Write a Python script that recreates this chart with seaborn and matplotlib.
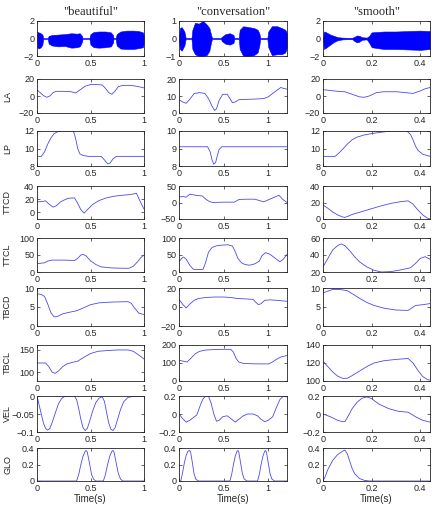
import matplotlib
matplotlib.use("Agg")
import matplotlib.pyplot as plt
import matplotlib.ticker as mticker
import seaborn as sns

# ---------------- waveforms (envelopes) ----------------
beautiful_wav_t = [0, 0.004, 0.015, 0.035, 0.05, 0.058, 0.10, 0.11, 0.14, 0.2, 0.26, 0.32, 0.37, 0.40, 0.42, 0.425,
                   0.49, 0.50, 0.53, 0.58, 0.64, 0.69, 0.71, 0.715, 0.735, 0.745, 0.78, 0.84, 0.9, 0.95, 0.99, 1.0]
beautiful_wav_top = [0.05, 0.75, 0.7, 0.6, 0.45, 0.05, 0.05, 0.3, 0.4, 0.45, 0.5, 0.6, 0.55, 0.6, 0.3, 0.05,
                     0.05, 0.5, 0.75, 0.8, 0.8, 0.7, 0.4, 0.05, 0.05, 0.5, 0.8, 0.9, 0.9, 0.85, 0.7, 0.3]
beautiful_wav_bot = [-0.05, -1.0, -1.15, -1.0, -0.7, -0.05, -0.05, -0.6, -0.8, -0.9, -0.85, -1.05, -1.0, -0.9, -0.4, -0.05,
                     -0.05, -0.7, -1.0, -1.05, -1.0, -0.9, -0.5, -0.05, -0.05, -0.8, -1.15, -1.2, -1.2, -1.1, -1.0, -0.4]

conv_wav_t = [0, 0.01, 0.03, 0.06, 0.075, 0.14, 0.15, 0.18, 0.22, 0.27, 0.31, 0.34, 0.36, 0.37, 0.47, 0.48, 0.52,
              0.57, 0.61, 0.62, 0.67, 0.68, 0.72, 0.78, 0.84, 0.88, 0.9, 0.91, 0.99, 1.0, 1.04, 1.1, 1.15, 1.19, 1.21]
conv_wav_top = [0.03, 0.6, 0.65, 0.4, 0.03, 0.03, 0.5, 0.9, 0.85, 1.0, 0.8, 0.6, 0.2, 0.03, 0.03, 0.1, 0.25,
                0.3, 0.2, 0.03, 0.03, 0.5, 0.7, 0.65, 0.6, 0.5, 0.3, 0.03, 0.03, 0.4, 0.7, 0.7, 0.6, 0.5, 0.3]
conv_wav_bot = [-0.03, -0.6, -0.7, -0.4, -0.03, -0.03, -0.6, -0.9, -1.0, -1.0, -0.95, -0.7, -0.2, -0.03, -0.03, -0.15, -0.3,
                -0.35, -0.25, -0.03, -0.03, -0.6, -1.0, -1.0, -0.95, -0.8, -0.4, -0.03, -0.03, -0.5, -0.95, -0.9, -0.9, -0.8, -0.5]

smooth_wav_t = [0, 0.004, 0.01, 0.02, 0.03, 0.045, 0.06, 0.08, 0.1, 0.12, 0.13, 0.14, 0.15, 0.16, 0.18, 0.19, 0.2,
                0.25, 0.3, 0.35, 0.4, 0.44]
smooth_wav_top = [0.05, 0.8, 0.75, 0.6, 0.45, 0.3, 0.15, 0.1, 0.08, 0.08, 0.2, 0.35, 0.3, 0.15, 0.1, 0.3, 0.7,
                  0.8, 0.8, 0.85, 0.9, 0.85]
smooth_wav_bot = [-0.05, -1.2, -1.1, -0.9, -0.7, -0.4, -0.2, -0.1, -0.08, -0.08, -0.3, -0.45, -0.35, -0.15, -0.1, -0.5, -1.0,
                  -1.2, -1.2, -1.25, -1.3, -1.2]

# ---------------- "beautiful" ----------------
b_la_t = [0, 0.03, 0.06, 0.09, 0.12, 0.15, 0.18, 0.25, 0.32, 0.36, 0.40, 0.45, 0.50, 0.55, 0.61, 0.64, 0.67, 0.70,
          0.73, 0.76, 0.80, 0.88, 0.95, 1.0]
b_la = [7, 4, 0.5, -1.5, 0, 4, 5.5, 5.5, 5, 3.5, 7, 11.5, 13.5, 13.5, 13, 9, 4, 2, 6, 11, 12.5, 12.5, 11, 9.5]
b_lp_t = [0, 0.04, 0.07, 0.10, 0.13, 0.16, 0.19, 0.22, 0.25, 0.34, 0.36, 0.38, 0.40, 0.43, 0.48, 0.60, 0.63, 0.66,
          0.68, 0.71, 0.74, 1.0]
b_lp = [9.1, 9.1, 9.6, 10.5, 11.2, 11.7, 11.9, 12, 12, 12, 11.2, 10, 9.4, 9.2, 9.1, 9.1, 8.7, 8.25, 8.3, 8.8, 9.1, 9.1]
b_ttcd_t = [0, 0.05, 0.08, 0.11, 0.15, 0.18, 0.22, 0.27, 0.30, 0.35, 0.38, 0.41, 0.44, 0.47, 0.52, 0.58, 0.65, 0.72,
            0.80, 0.87, 0.93, 0.96, 1.0]
b_ttcd = [16, 16.5, 17.5, 13, 8, 10, 16, 20, 21.5, 22, 14, 4, -1, 4, 12, 18, 22, 24.5, 26, 27, 29, 18, 5]
b_ttcl_t = [0, 0.04, 0.07, 0.10, 0.14, 0.25, 0.35, 0.38, 0.41, 0.43, 0.46, 0.50, 0.55, 0.60, 0.70, 0.80, 0.86, 0.90,
            0.94, 0.97, 1.0]
b_ttcl = [24, 26, 27, 32, 35, 35, 34, 40, 50, 52, 47, 33, 22, 15, 12, 11, 11, 17, 30, 42, 50]
b_tbcd_t = [0, 0.04, 0.07, 0.10, 0.13, 0.16, 0.19, 0.24, 0.30, 0.37, 0.42, 0.50, 0.58, 0.70, 0.85, 0.88, 0.91, 0.95, 1.0]
b_tbcd = [8.5, 8.3, 7.8, 5.8, 3.5, 2.4, 2.5, 3.2, 3.6, 4.0, 4.6, 5.6, 6.1, 6.3, 6.4, 6.0, 4.8, 3.4, 3.0]
b_tbcl_t = [0, 0.08, 0.11, 0.14, 0.17, 0.20, 0.24, 0.28, 0.34, 0.38, 0.44, 0.50, 0.57, 0.65, 0.75, 0.85, 0.90, 0.95, 1.0]
b_tbcl = [120, 120, 112, 100, 97, 102, 112, 118, 122, 124, 133, 141, 146, 147.5, 149, 149, 146, 138, 129]
b_vel_t = [0, 0.02, 0.04, 0.06, 0.08, 0.10, 0.12, 0.14, 0.17, 0.20, 0.23, 0.26, 0.35, 0.37, 0.39, 0.41, 0.43, 0.45,
           0.47, 0.49, 0.52, 0.55, 0.58, 0.61, 0.63, 0.65, 0.67, 0.69, 0.71, 0.73, 0.75, 0.78, 0.81, 0.85, 0.90, 1.0]
b_vel = [0, -0.025, -0.05, -0.075, -0.09, -0.095, -0.09, -0.075, -0.048, -0.022, -0.007, -0.001, 0, -0.01, -0.035,
         -0.065, -0.088, -0.096, -0.09, -0.072, -0.042, -0.018, -0.006, -0.002, -0.015, -0.045, -0.075, -0.092,
         -0.096, -0.088, -0.068, -0.038, -0.016, -0.004, -0.001, 0]
b_glo_t = [0, 0.37, 0.39, 0.41, 0.43, 0.45, 0.46, 0.47, 0.49, 0.51, 0.53, 0.55, 0.62, 0.64, 0.66, 0.68, 0.70, 0.71,
           0.72, 0.74, 0.76, 0.78, 0.80, 1.0]
b_glo = [0, 0, 0.08, 0.2, 0.3, 0.36, 0.37, 0.35, 0.22, 0.08, 0.02, 0, 0, 0.08, 0.2, 0.3, 0.36, 0.37, 0.35, 0.22,
         0.09, 0.025, 0, 0]

# ---------------- "conversation" ----------------
c_la_t = [0, 0.04, 0.08, 0.12, 0.17, 0.23, 0.29, 0.33, 0.37, 0.40, 0.42, 0.45, 0.49, 0.54, 0.57, 0.60, 0.63, 0.67,
          0.75, 0.85, 0.95, 1.0, 1.05, 1.10, 1.14, 1.17, 1.21]
c_la = [8, 6.5, 5.7, 8, 11.5, 12, 11.5, 8.5, 4, 1.5, 2.5, 7.5, 11, 11, 8.5, 6, 6.5, 7.8, 8, 8.2, 8.5, 9.5, 11.5,
        13.5, 15, 14.5, 14]
c_lp_t = [0, 0.32, 0.35, 0.37, 0.39, 0.41, 0.43, 0.45, 0.48, 1.21]
c_lp = [9.1, 9.1, 8.8, 8.35, 8.1, 8.2, 8.6, 8.95, 9.1, 9.1]
c_ttcd_t = [0, 0.05, 0.08, 0.12, 0.15, 0.20, 0.26, 0.30, 0.34, 0.38, 0.50, 0.62, 0.67, 0.75, 0.85, 0.90, 0.95, 1.00,
            1.06, 1.12, 1.16, 1.21]
c_ttcd = [17, 18, 16, 25, 24, 21, 20, 10, 3, 0, 1, 1, 9, 10, 10, 6, 2, 8, 15, 22, 10, 0]
c_ttcl_t = [0, 0.03, 0.05, 0.08, 0.12, 0.16, 0.22, 0.27, 0.30, 0.33, 0.37, 0.42, 0.48, 0.55, 0.60, 0.63, 0.66, 0.70,
            0.74, 0.79, 0.85, 0.90, 0.93, 0.97, 1.02, 1.08, 1.13, 1.17, 1.21]
c_ttcl = [30, 40, 44, 38, 20, 8, 7, 8, 30, 58, 72, 77, 79, 80, 76, 60, 40, 27, 22, 20, 24, 32, 48, 57, 52, 40, 30, 38, 52]
c_tbcd_t = [0, 0.04, 0.08, 0.12, 0.17, 0.22, 0.30, 0.40, 0.50, 0.58, 0.65, 0.75, 0.83, 0.86, 0.89, 0.92, 0.96, 1.02,
            1.10, 1.21]
c_tbcd = [8, 3, -1, 3, 7, 9, 10, 10.5, 10.5, 10, 9, 8.5, 8, 5, 2.5, 3.5, 7, 7.5, 7, 6]
c_tbcl_t = [0, 0.05, 0.09, 0.13, 0.18, 0.23, 0.30, 0.40, 0.50, 0.58, 0.61, 0.64, 0.67, 0.72, 0.80, 0.90, 1.00, 1.04,
            1.09, 1.14, 1.21]
c_tbcl = [115, 110, 105, 125, 150, 165, 172, 175, 176, 176, 160, 125, 105, 98, 96, 95, 95, 103, 120, 133, 142]
c_vel_t = [0, 0.04, 0.08, 0.12, 0.16, 0.20, 0.24, 0.27, 0.30, 0.33, 0.36, 0.39, 0.42, 0.45, 0.49, 0.54, 0.58, 0.63,
           0.67, 0.72, 0.77, 0.83, 0.88, 0.92, 0.96, 1.00, 1.05, 1.09, 1.13, 1.17, 1.21]
c_vel = [0, -0.05, -0.09, -0.07, -0.04, -0.01, 0.1, 0.17, 0.2, 0.2, 0.12, 0.0, -0.08, -0.07, -0.03, -0.02, -0.05,
         -0.09, -0.06, -0.02, 0, 0, -0.02, -0.06, -0.085, -0.07, -0.03, 0.07, 0.16, 0.2, 0.19]
c_glo_t = [0, 0.02, 0.04, 0.06, 0.08, 0.10, 0.12, 0.13, 0.15, 0.17, 0.19, 0.22, 0.57, 0.59, 0.61, 0.63, 0.65, 0.66,
           0.67, 0.69, 0.71, 0.73, 0.76, 0.88, 0.90, 0.92, 0.94, 0.96, 0.97, 0.98, 1.00, 1.02, 1.04, 1.07, 1.21]
c_glo = [0, 0, 0.1, 0.22, 0.31, 0.36, 0.37, 0.35, 0.22, 0.08, 0.02, 0, 0, 0.08, 0.2, 0.3, 0.36, 0.37, 0.35, 0.22,
         0.09, 0.025, 0, 0, 0.08, 0.2, 0.3, 0.36, 0.37, 0.35, 0.22, 0.09, 0.025, 0, 0]

# ---------------- "smooth" ----------------
s_la_t = [0, 0.03, 0.06, 0.09, 0.12, 0.15, 0.17, 0.19, 0.22, 0.25, 0.30, 0.34, 0.37, 0.40, 0.42, 0.44]
s_la = [7.5, 6.5, 5.5, 5, 2, -1, -1.5, 0, 4, 5, 5, 4, 3, 6, 8.5, 10]
s_lp_t = [0, 0.05, 0.07, 0.10, 0.12, 0.14, 0.17, 0.21, 0.25, 0.28, 0.345, 0.36, 0.37, 0.38, 0.39, 0.41, 0.44]
s_lp = [9.1, 9.1, 9.6, 10.5, 11.0, 11.3, 11.55, 11.75, 11.9, 12, 12, 11.6, 11.0, 10.3, 9.8, 9.35, 9.1]
s_ttcd_t = [0, 0.02, 0.04, 0.06, 0.08, 0.09, 0.10, 0.12, 0.16, 0.20, 0.24, 0.28, 0.32, 0.35, 0.37, 0.39, 0.41, 0.43, 0.44]
s_ttcd = [17, 13, 8.5, 5, 2.5, 2, 3, 5.5, 9, 12.5, 16, 19, 21, 22, 18, 11, 5, 1, 0]
s_ttcl_t = [0, 0.02, 0.04, 0.06, 0.075, 0.09, 0.11, 0.13, 0.15, 0.18, 0.21, 0.24, 0.28, 0.32, 0.36, 0.38, 0.40, 0.42, 0.44]
s_ttcl = [26, 36, 46, 51, 53, 51, 45, 38, 32, 26, 22, 20, 20.5, 22.5, 25, 30, 36, 38, 35]
s_tbcd_t = [0, 0.02, 0.04, 0.07, 0.10, 0.12, 0.15, 0.18, 0.21, 0.25, 0.30, 0.35, 0.36, 0.38, 0.41, 0.44]
s_tbcd = [8.7, 9.2, 9.6, 9.6, 9.3, 8.5, 7.3, 6.2, 5.4, 4.7, 4.2, 4.1, 4.5, 5.4, 5.6, 5.9]
s_tbcl_t = [0, 0.02, 0.04, 0.06, 0.08, 0.10, 0.12, 0.15, 0.18, 0.21, 0.25, 0.30, 0.35, 0.37, 0.39, 0.41, 0.43, 0.44]
s_tbcl = [122, 116, 110, 105.5, 103, 103, 106, 111, 116, 120, 122.5, 124, 125, 120, 112, 105, 101.5, 101]
s_vel_t = [0, 0.03, 0.06, 0.08, 0.09, 0.10, 0.12, 0.14, 0.16, 0.18, 0.20, 0.23, 0.27, 0.31, 0.35, 0.38, 0.41, 0.44]
s_vel = [0, -0.03, -0.07, -0.085, -0.085, -0.04, 0.06, 0.13, 0.175, 0.19, 0.17, 0.11, 0.06, 0.03, 0.02, -0.03, -0.07, -0.09]
s_glo_t = [0, 0.01, 0.02, 0.04, 0.06, 0.08, 0.09, 0.10, 0.11, 0.12, 0.13, 0.15, 0.17, 0.19, 0.44]
s_glo = [0, 0.06, 0.14, 0.25, 0.32, 0.36, 0.375, 0.33, 0.24, 0.15, 0.09, 0.03, 0.008, 0, 0]

words = ['"beautiful"', '"conversation"', '"smooth"']
row_labels = ["", "LA", "LP", "TTCD", "TTCL", "TBCD", "TBCL", "VEL", "GLO"]

sns.set_theme(style="ticks")
plt.rcParams.update({
    "font.family": ["Liberation Sans", "DejaVu Sans"],
    "font.size": 6.5,
    "axes.linewidth": 0.6,
    "axes.edgecolor": "#222222",
    "xtick.direction": "in",
    "ytick.direction": "in",
    "xtick.top": True,
    "ytick.right": True,
    "xtick.major.size": 2,
    "ytick.major.size": 2,
    "xtick.major.width": 0.5,
    "ytick.major.width": 0.5,
    "xtick.major.pad": 2,
    "ytick.major.pad": 2,
    "xtick.labelsize": 6.5,
    "ytick.labelsize": 6.5,
})

W, H = 436, 508
fig = plt.figure(figsize=(W / 100, H / 100), dpi=100)
col_px = [(37, 144), (179, 287), (323, 430)]
row_px = [(21, 56), (79, 113), (131, 166), (186, 219), (238, 272), (288, 326), (345, 381), (396, 432), (448, 481)]

xlims = [1.0, 1.21, 0.44]
xticks = [[0, 0.5, 1], [0, 0.5, 1], [0, 0.2, 0.4]]

waves = [(beautiful_wav_t, beautiful_wav_top, beautiful_wav_bot),
         (conv_wav_t, conv_wav_top, conv_wav_bot),
         (smooth_wav_t, smooth_wav_top, smooth_wav_bot)]
wave_ylim = [(-2, 2), (-1, 1), (-2, 2)]
wave_yticks = [[-2, 0, 2], [-1, 0, 1], [-2, 0, 2]]

curves = [
    [(b_la_t, b_la), (c_la_t, c_la), (s_la_t, s_la)],
    [(b_lp_t, b_lp), (c_lp_t, c_lp), (s_lp_t, s_lp)],
    [(b_ttcd_t, b_ttcd), (c_ttcd_t, c_ttcd), (s_ttcd_t, s_ttcd)],
    [(b_ttcl_t, b_ttcl), (c_ttcl_t, c_ttcl), (s_ttcl_t, s_ttcl)],
    [(b_tbcd_t, b_tbcd), (c_tbcd_t, c_tbcd), (s_tbcd_t, s_tbcd)],
    [(b_tbcl_t, b_tbcl), (c_tbcl_t, c_tbcl), (s_tbcl_t, s_tbcl)],
    [(b_vel_t, b_vel), (c_vel_t, c_vel), (s_vel_t, s_vel)],
    [(b_glo_t, b_glo), (c_glo_t, c_glo), (s_glo_t, s_glo)],
]
ylims = [
    [(-20, 20), (0, 20), (-20, 20)],
    [(8, 12), (8, 10), (8, 12)],
    [(-10, 40), (-50, 50), (0, 40)],
    [(0, 100), (0, 100), (20, 60)],
    [(0, 10), (-20, 20), (0, 10)],
    [(80, 160), (0, 200), (100, 140)],
    [(-0.1, 0), (-0.2, 0.2), (-0.2, 0.2)],
    [(0, 0.4), (0, 0.4), (0, 0.4)],
]
yticks = [
    [[-20, 0, 20], [0, 10, 20], [-20, 0, 20]],
    [[8, 10, 12], [8, 9, 10], [8, 10, 12]],
    [[0, 20, 40], [-50, 0, 50], [0, 20, 40]],
    [[0, 50, 100], [0, 50, 100], [20, 40, 60]],
    [[0, 5, 10], [-20, 0, 20], [0, 5, 10]],
    [[100, 150], [0, 100, 200], [100, 120, 140]],
    [[-0.1, -0.05, 0], [-0.2, 0, 0.2], [-0.2, 0, 0.2]],
    [[0, 0.2, 0.4], [0, 0.2, 0.4], [0, 0.2, 0.4]],
]

fmt = mticker.FuncFormatter(lambda v, p: f"{v:g}".replace("-", "\u2212"))


def make_ax(r, c):
    x0, x1 = col_px[c]
    y0, y1 = row_px[r]
    ax = fig.add_axes([x0 / W, 1 - y1 / H, (x1 - x0) / W, (y1 - y0) / H])
    for s in ax.spines.values():
        s.set_visible(True)
    ax.set_xlim(0, xlims[c])
    ax.set_xticks(xticks[c])
    ax.xaxis.set_major_formatter(fmt)
    ax.yaxis.set_major_formatter(fmt)
    return ax


for c in range(3):
    ax = make_ax(0, c)
    t, top, bot = waves[c]
    ax.fill_between(t, bot, top, color="#0000ff", linewidth=0.4, edgecolor="#0000ff")
    ax.set_ylim(*wave_ylim[c])
    ax.set_yticks(wave_yticks[c])
    ax.set_title(words[c], family=["Liberation Serif", "DejaVu Serif"], fontsize=9, pad=4)

for r in range(8):
    for c in range(3):
        ax = make_ax(r + 1, c)
        t, v = curves[r][c]
        sns.lineplot(x=t, y=v, ax=ax, color="#4a4aee", linewidth=0.6)
        ax.set_ylim(*ylims[r][c])
        ax.set_yticks(yticks[r][c])
        if c == 0:
            ax.set_ylabel(row_labels[r + 1], fontsize=6.5, va="center")
            ax.yaxis.set_label_coords(-0.275, 0.5)
        if r == 7:
            ax.set_xlabel("Time(s)", fontsize=7, labelpad=1)

fig.savefig("out.png", dpi=100)
